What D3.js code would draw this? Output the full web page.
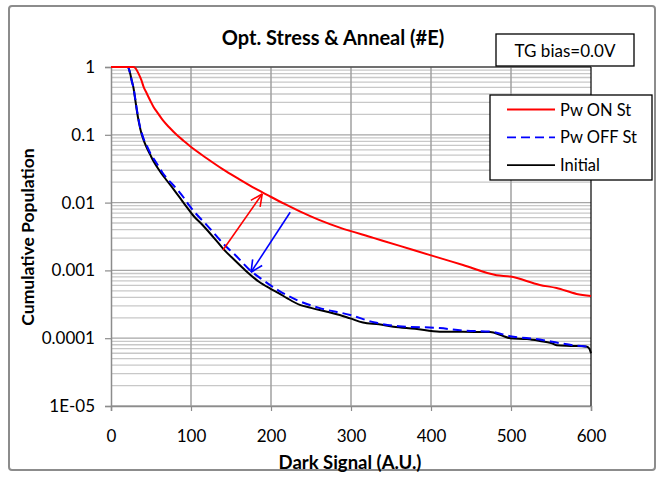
<!DOCTYPE html>
<html><head><meta charset="utf-8">
<script src="https://cdn.jsdelivr.net/npm/d3@7"></script>
<style>
body{margin:0;background:#fff;}
svg{display:block;font-family:Lato,"Open Sans",sans-serif;}
</style></head>
<body><svg id="c" width="665" height="481"></svg>
<script>
// ---- data ----
const xTicks = [0,100,200,300,400,500,600];
const yTicks = [1,0.1,0.01,0.001,0.0001,0.00001];
const yTickLabels = ["1","0.1","0.01","0.001","0.0001","1E-05"];

const onX  = [0,28,31,34,38,41,44.6,49,53,59,65,73,82,91,99,120,140,161,180,199,217,236,260,286,328,360,399,440,482,499,536,557,582,600];
const onY  = [1,1,0.95,0.82,0.64,0.5,0.41,0.32,0.26,0.205,0.163,0.128,0.1,0.0813,0.0676,0.0447,0.0309,0.0219,0.0162,0.0123,0.00955,0.00741,0.00556,0.00427,0.00302,0.00232,0.00168,0.0012,0.00085,0.00081,0.00061,0.00055,0.00045,0.00042];

const offX = [0,21,24,26,28,30,32,35,38,41,45,49,54,59,64,71,78,85,91,98,106,118,130,140,155,174,190,210,236,260,299,330,360,411,440,474,499,536,560,580,600];
const offY = [1,1,0.8,0.62,0.5,0.36,0.25,0.155,0.11,0.086,0.068,0.054,0.043,0.035,0.028,0.022,0.018,0.0145,0.0118,0.009,0.0069,0.0049,0.0034,0.0025,0.0017,0.001,0.00072,0.0005,0.00035,0.00028,0.00022,0.00017,0.00015,0.000141,0.00013,0.000125,0.000107,0.0000955,0.000085,0.000078,0.000075];

const iniX = [0,21,24,26,28,30,32,35,38,41,44.6,49,53,58,63,70,76,82,88,95,103,115,130,140,155,168,185,199,210,220,236,250,270,286,299,315,335,353,380,411,440,474,488,499,520,536,550,557,575,595,598,600];
const iniY = [1,1,0.8,0.62,0.5,0.35,0.24,0.15,0.105,0.082,0.065,0.051,0.041,0.033,0.027,0.021,0.017,0.0137,0.011,0.0085,0.0064,0.0046,0.0029,0.0021,0.0014,0.001,0.00068,0.00054,0.00046,0.00039,0.00031,0.00028,0.000246,0.00022,0.000196,0.00017,0.00016,0.000148,0.000138,0.000125,0.000124,0.000123,0.00011,0.0001,0.000097,0.000091,0.000085,0.000079,0.000077,0.000075,0.00007,0.00006];

const seriesNames = ["Pw ON St","Pw OFF St","Initial"];
const seriesColors = ["#ff0000","#0000ff","#000000"];

// arrows [x0,y0,x1,y1] in data units
const redArrow = [140,0.002,189,0.0134];
const blueArrow = [224,0.0072,175,0.00094];

// ---- layout ----
const FONT = "Lato,'Open Sans',sans-serif";
const svg = d3.select("#c");
const L=111, R=591, T=67, B=406;
const x = d3.scaleLinear().domain([0,600]).range([L,R]);
const y = d3.scaleLog().domain([1e-5,1]).range([B,T]);

// outer border
svg.append("rect").attr("x",9).attr("y",6).attr("width",646).attr("height",464)
  .attr("rx",3).attr("fill","#fff").attr("stroke","#8c8c8c").attr("stroke-width",2);

// minor horizontal grid
const minor=[];
for(let e=-5;e<0;e++){ for(let m=2;m<=9;m++) minor.push(m*Math.pow(10,e)); }
svg.append("g").selectAll("line").data(minor).join("line")
  .attr("x1",L).attr("x2",R).attr("y1",d=>y(d)).attr("y2",d=>y(d))
  .attr("stroke","#c8c8c8").attr("stroke-width",1.3);
// major horizontal grid
svg.append("g").selectAll("line").data(yTicks).join("line")
  .attr("x1",L).attr("x2",R).attr("y1",d=>y(d)).attr("y2",d=>y(d))
  .attr("stroke","#a6a6a6").attr("stroke-width",1.3);
// vertical grid
svg.append("g").selectAll("line").data(xTicks.slice(1,-1)).join("line")
  .attr("x1",d=>x(d)).attr("x2",d=>x(d)).attr("y1",T).attr("y2",B)
  .attr("stroke","#a0a0a0").attr("stroke-width",1.5);

// plot border top/right
svg.append("line").attr("x1",L).attr("x2",R).attr("y1",T).attr("y2",T).attr("stroke","#222").attr("stroke-width",1.2);
svg.append("line").attr("x1",R).attr("x2",R).attr("y1",T).attr("y2",B).attr("stroke","#000").attr("stroke-width",1.2);

// axes
const yAxis = d3.axisLeft(y).tickValues(yTicks).tickFormat((d,i)=>yTickLabels[i]).tickSizeOuter(0).tickSize(6).tickPadding(10);
const gy = svg.append("g").attr("transform",`translate(${L},0)`).call(yAxis);
const xAxis = d3.axisBottom(x).tickValues(xTicks).tickSizeOuter(0).tickSize(5).tickPadding(19);
const gx = svg.append("g").attr("transform",`translate(0,${B})`).call(xAxis);
[gy,gx].forEach(g=>{
  g.select(".domain").attr("stroke","#8c8c8c").attr("stroke-width",1.5);
  g.selectAll(".tick line").attr("stroke","#8c8c8c").attr("stroke-width",1.2);
  g.selectAll("text").attr("fill","#000").style("font-size","17px").style("font-family",FONT);
});

// clip
svg.append("clipPath").attr("id","clip").append("rect").attr("x",L).attr("y",T-2).attr("width",R-L+2).attr("height",B-T+2);

const line = d3.line().x(d=>x(d[0])).y(d=>y(d[1])).curve(d3.curveMonotoneX);
const plot = svg.append("g").attr("clip-path","url(#clip)");
const mk=(xs,ys)=>xs.map((v,i)=>[v,ys[i]]);
plot.append("path").datum(mk(iniX,iniY)).attr("d",line).attr("fill","none").attr("stroke",seriesColors[2]).attr("stroke-width",2);
plot.append("path").datum(mk(offX,offY)).attr("d",line).attr("fill","none").attr("stroke",seriesColors[1]).attr("stroke-width",2).attr("stroke-dasharray","9,5");
plot.append("path").datum(mk(onX,onY)).attr("d",line).attr("fill","none").attr("stroke",seriesColors[0]).attr("stroke-width",2);

// arrows
function arrow(a,color){
  const x0=x(a[0]),y0=y(a[1]),x1=x(a[2]),y1=y(a[3]);
  const g=svg.append("g").attr("stroke",color).attr("stroke-width",1.6).attr("fill","none");
  g.append("line").attr("x1",x0).attr("y1",y0).attr("x2",x1).attr("y2",y1);
  const ang=Math.atan2(y1-y0,x1-x0), len=13, sp=0.45;
  [ang+Math.PI-sp, ang+Math.PI+sp].forEach(t=>{
    g.append("line").attr("x1",x1).attr("y1",y1).attr("x2",x1+len*Math.cos(t)).attr("y2",y1+len*Math.sin(t));
  });
}
arrow(redArrow,"#ff0000");
arrow(blueArrow,"#0000ff");

// title
svg.append("text").attr("x",333).attr("y",45).attr("text-anchor","middle")
  .style("font-size","20px").style("font-weight","bold").text("Opt. Stress & Anneal (#E)");
// TG bias box
svg.append("rect").attr("x",496).attr("y",34).attr("width",138).attr("height",32).attr("fill","#fff").attr("stroke","#000").attr("stroke-width",1.3);
svg.append("text").attr("x",565).attr("y",57).attr("text-anchor","middle").style("font-size","17px").text("TG bias=0.0V");

// legend
svg.append("rect").attr("x",490).attr("y",95).attr("width",162).attr("height",85).attr("fill","#fff").attr("stroke","#000").attr("stroke-width",1.3);
const lg = svg.append("g").selectAll("g").data(seriesNames).join("g").attr("transform",(d,i)=>`translate(0,${109.5+i*27.8})`);
lg.append("line").attr("x1",507).attr("x2",555).attr("y1",0).attr("y2",0)
  .attr("stroke",(d,i)=>seriesColors[i]).attr("stroke-width",1.8).attr("stroke-dasharray",(d,i)=>i===1?"9,5":null);
lg.append("text").attr("x",560).attr("y",6).style("font-size","16.5px").text(d=>d);

// axis titles
svg.append("text").attr("x",350).attr("y",469).attr("text-anchor","middle").style("font-size","18.5px").style("font-weight","bold").text("Dark Signal (A.U.)");
svg.append("text").attr("transform","translate(34,237) rotate(-90)").attr("text-anchor","middle").style("font-size","17.5px").style("font-weight","bold").text("Cumulative Population");
</script></body></html>
